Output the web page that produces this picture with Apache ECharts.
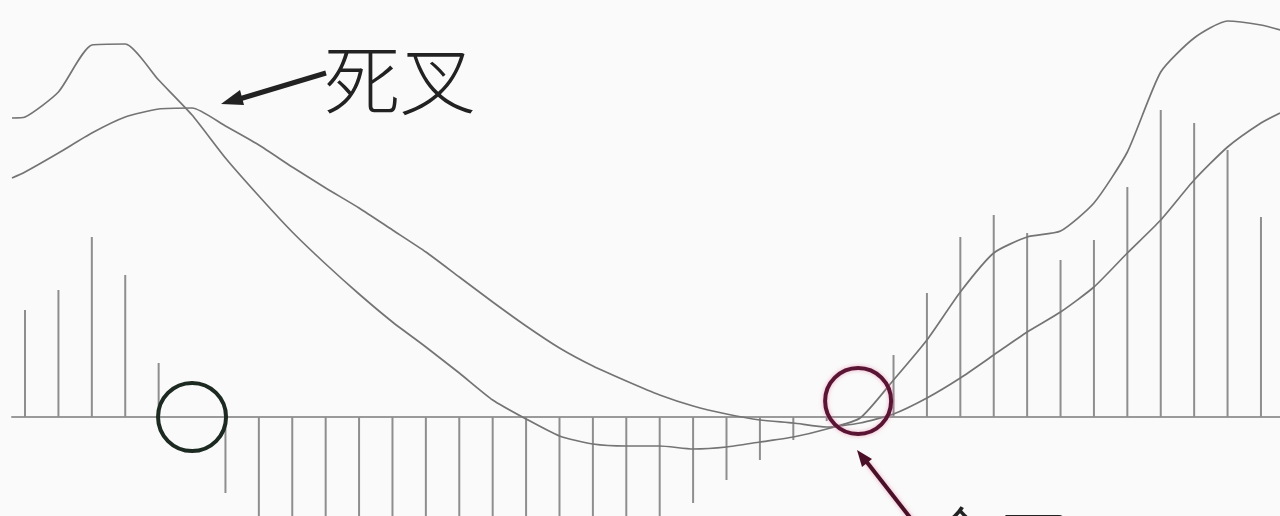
<!DOCTYPE html>
<html>
<head>
<meta charset="utf-8">
<script src="https://cdn.jsdelivr.net/npm/echarts@6/dist/echarts.min.js"></script>
<style>
  html, body { margin: 0; padding: 0; background: #fafafa; }
  #chart { width: 1280px; height: 516px; }
</style>
</head>
<body>
<div id="chart"></div>
<script>
// x positions of the line points (bar index units, first/last are the plot edges)
var lineX = [-0.39, 0, 1, 2, 3, 4, 5, 6, 7, 8, 9, 10, 11, 12, 13, 14, 15, 16, 17, 18, 19,
    20, 21, 22, 23, 24, 25, 26, 27, 28, 29, 30, 31, 32, 33, 34, 35, 36, 37, 37.57];
// DIF line (fast)
var dif = [2.99, 3.00, 3.25, 3.72, 3.73, 3.37, 3.02, 2.59, 2.21, 1.85, 1.53, 1.23, 0.95, 0.70, 0.44,
    0.17, -0.02, -0.19, -0.27, -0.29, -0.29, -0.32, -0.30, -0.25, -0.20, -0.12, -0.01, 0.37, 0.77,
    1.25, 1.64, 1.80, 1.86, 2.14, 2.65, 3.45, 3.79, 3.96, 3.92, 3.87];
// DEA line (slow)
var dea = [2.39, 2.45, 2.64, 2.84, 3.00, 3.08, 3.09, 2.91, 2.72, 2.50, 2.29, 2.09, 1.87, 1.65, 1.40,
    1.15, 0.91, 0.69, 0.51, 0.36, 0.22, 0.11, 0.03, -0.03, -0.06, -0.10, -0.06, 0.03, 0.19, 0.39,
    0.62, 0.85, 1.05, 1.30, 1.64, 1.97, 2.37, 2.70, 2.94, 3.04];
// MACD histogram, one bar per index 0..37
var macd = [1.07, 1.27, 1.80, 1.42, 0.54, 0, -0.76, -1.02, -1.24, -1.56, -1.74, -1.88, -1.90, -1.92,
    -1.96, -1.86, -1.76, -1.56, -1.30, -1.05, -0.86, -0.63, -0.43, -0.23, -0.04, 0, 0.62, 1.24,
    1.80, 2.02, 1.84, 1.57, 1.77, 2.30, 3.07, 2.94, 2.67, 2.00];
// cross points to circle
var deadCross = [5, 0];
var goldCross = [24.94, 0.16];

var chartDom = document.getElementById('chart');
var myChart = echarts.init(chartDom);

var difData = lineX.map((x, i) => [x, dif[i]]);
var deaData = lineX.map((x, i) => [x, dea[i]]);
var macdData = macd.map((v, i) => [i, v]);

var cjkFont = '300 76px "Noto Sans CJK SC Light", "Noto Sans CJK SC"';

var option = {
    backgroundColor: '#fafafa',
    animation: false,
    grid: { left: 12, right: 0, top: 0, bottom: 0 },
    xAxis: {
        type: 'value',
        min: -0.39,
        max: 37.57,
        axisLine: { show: true, onZero: true, lineStyle: { color: '#9a9a9a', width: 2 } },
        axisTick: { show: false },
        axisLabel: { show: false },
        splitLine: { show: false }
    },
    yAxis: {
        type: 'value',
        min: -0.99,
        max: 4.17,
        axisLine: { show: false },
        axisTick: { show: false },
        axisLabel: { show: false },
        splitLine: { show: false }
    },
    series: [
        {
            name: 'MACD',
            type: 'bar',
            barWidth: 2,
            itemStyle: { color: '#8e8e8e' },
            data: macdData
        },
        {
            name: 'DIF',
            type: 'line',
            symbol: 'none',
            smooth: 0.2,
            lineStyle: { color: '#747474', width: 1.7 },
            data: difData,
            markPoint: {
                symbol: 'circle',
                label: { show: false },
                data: [
                    {
                        coord: deadCross, symbolSize: 68,
                        itemStyle: { color: 'rgba(0,0,0,0)', borderColor: '#1c2a22', borderWidth: 4 }
                    },
                    {
                        coord: goldCross, symbolSize: 66,
                        itemStyle: {
                            color: 'rgba(0,0,0,0)', borderColor: '#5a1535', borderWidth: 4,
                            shadowBlur: 4, shadowColor: 'rgba(230,120,160,0.6)'
                        }
                    }
                ]
            }
        },
        {
            name: 'DEA',
            type: 'line',
            symbol: 'none',
            smooth: 0.2,
            lineStyle: { color: '#747474', width: 1.7 },
            data: deaData
        }
    ],
    graphic: [
        // 死叉 label and arrow
        {
            type: 'text', left: 324, top: 42,
            style: { text: '死叉', font: cjkFont, fill: '#222' }
        },
        {
            type: 'line',
            shape: { x1: 326, y1: 73, x2: 236, y2: 100 },
            style: { stroke: '#222', lineWidth: 5 }
        },
        {
            type: 'polygon',
            shape: { points: [[221, 104], [244, 105], [240, 90]] },
            style: { fill: '#222' }
        },
        // 金叉 label (cut by the bottom edge) and arrow
        {
            type: 'text', left: 922, top: 504,
            style: { text: '金叉', font: cjkFont, fill: '#222' }
        },
        {
            type: 'line',
            shape: { x1: 912, y1: 520, x2: 866, y2: 461 },
            style: { stroke: '#4a1028', lineWidth: 4, shadowBlur: 4, shadowColor: 'rgba(230,120,160,0.6)' }
        },
        {
            type: 'polygon',
            shape: { points: [[857, 450], [872, 459], [862, 467]] },
            style: { fill: '#4a1028' }
        }
    ]
};
option && myChart.setOption(option);
</script>
</body>
</html>
